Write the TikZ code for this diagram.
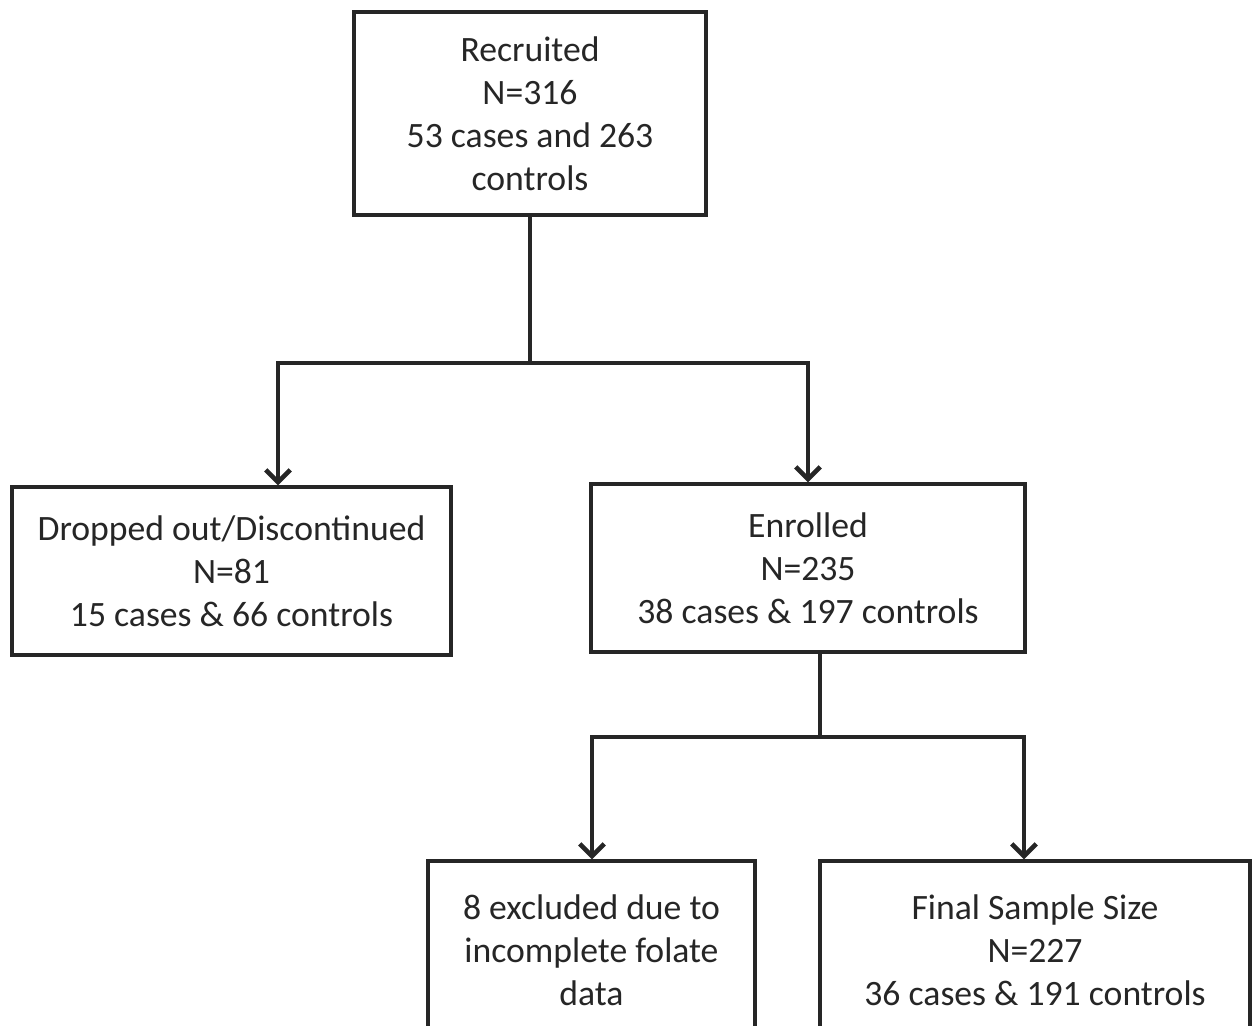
\documentclass[tikz,border=0pt]{standalone}
\usepackage{fontspec}
\setmainfont{Carlito}
\usetikzlibrary{arrows.meta}
\begin{document}
\begin{tikzpicture}[x=0.02cm,y=-0.02cm,
  box/.style={draw=black!85, line width=1.9pt, fill=white, align=center, inner sep=0pt,
    font=\fontsize{20.3}{24.4}\selectfont, text=black!85},
  link/.style={draw=black!85, line width=1.9pt},
  arr/.style={link, -{Straight Barb[length=7pt,width=14pt,line width=2.6pt]}}]
\useasboundingbox (0,0) rectangle (1253,1026);
\clip (0,0) rectangle (1253,1026);
\node[box, minimum width=7.04cm, minimum height=4.06cm] (rec) at (530,113.5)
  {Recruited\\N=316\\53 cases and 263\\controls};
\node[box, minimum width=8.78cm, minimum height=3.36cm] (drop) at (231.5,571)
  {Dropped out/Discontinued\\N=81\\15 cases \& 66 controls};
\node[box, minimum width=8.68cm, minimum height=3.36cm] (enr) at (808,568)
  {Enrolled\\N=235\\38 cases \& 197 controls};
\node[box, minimum width=6.54cm, minimum height=3.56cm] (exc) at (591.5,950)
  {8 excluded due to\\incomplete folate\\data};
\node[box, minimum width=8.6cm, minimum height=3.56cm] (fin) at (1035,950)
  {Final Sample Size\\N=227\\36 cases \& 191 controls};
\coordinate (j1) at (530,363);
\coordinate (jl) at (278,363);
\coordinate (jr) at (808,363);
\coordinate (k1) at (820,737);
\coordinate (kl) at (592,737);
\coordinate (kr) at (1024,737);
\draw[link] (rec.south) -- (j1);
\draw[link, line cap=rect] (jl) -- (jr);
\draw[arr] (jl) -- (jl |- drop.north);
\draw[arr] (jr) -- (jr |- enr.north);
\draw[link] (enr.south -| k1) -- (k1);
\draw[link, line cap=rect] (kl) -- (kr);
\draw[arr] (kl) -- (kl |- exc.north);
\draw[arr] (kr) -- (kr |- fin.north);
\end{tikzpicture}
\end{document}
